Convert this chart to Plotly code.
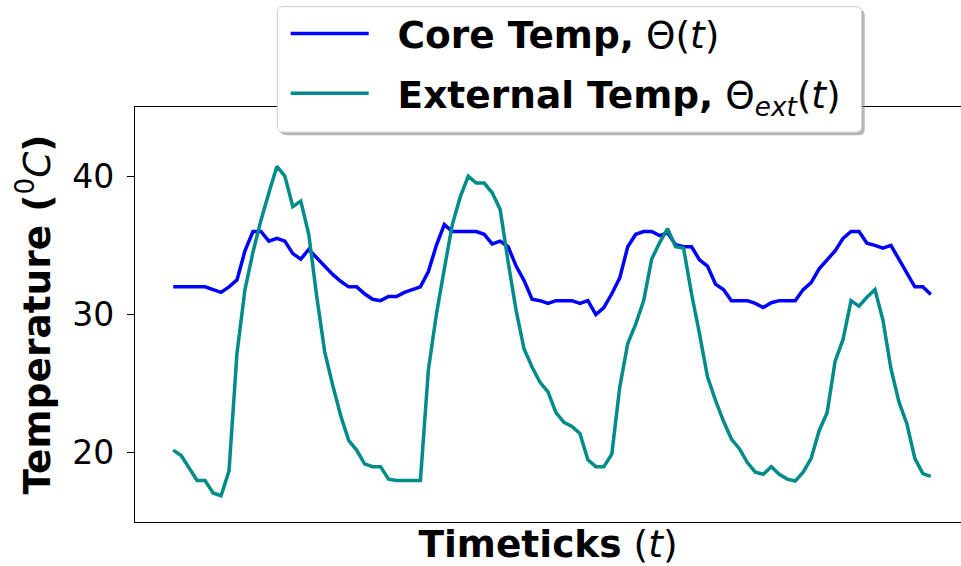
import plotly.graph_objects as go

# time index (timeticks)
timeticks = list(range(96))

core_temp = [
    32.0, 32.0, 32.0, 32.0, 32.0, 31.8, 31.6, 32.0, 32.5, 34.6,
    36.0, 36.0, 35.3, 35.5, 35.3, 34.4, 34.0, 34.7, 34.1, 33.5,
    32.9, 32.4, 32.0, 32.0, 31.5, 31.1, 31.0, 31.3, 31.3, 31.6,
    31.8, 32.0, 33.1, 35.0, 36.5, 36.0, 36.0, 36.0, 36.0, 35.8,
    35.1, 35.3, 34.9, 33.5, 32.45, 31.1, 31.0, 30.8, 31.0, 31.0,
    31.0, 30.8, 31.0, 30.0, 30.5, 31.5, 32.65, 34.9, 35.8, 36.0,
    36.0, 35.7, 35.9, 35.05, 34.9, 34.9, 33.95, 33.5, 32.2, 31.8,
    31.0, 31.0, 31.0, 30.8, 30.5, 30.85, 31.0, 31.0, 31.0, 31.8,
    32.3, 33.3, 33.95, 34.6, 35.5, 36.0, 36.0, 35.15, 35.0, 34.8,
    35.0, 34.0, 33.1, 32.0, 32.0, 31.45,
]

external_temp = [
    20.2, 19.8, 18.9, 18.0, 18.0, 17.1, 16.9, 18.7, 27.2, 31.8,
    34.5, 36.8, 38.8, 40.7, 40.0, 37.8, 38.2, 35.8, 31.3, 27.3,
    24.9, 22.7, 20.9, 20.2, 19.2, 19.0, 19.0, 18.1, 18.0, 18.0,
    18.0, 18.0, 26.0, 30.0, 33.3, 36.5, 38.5, 40.0, 39.5, 39.5,
    38.8, 37.6, 33.8, 30.3, 27.5, 26.2, 25.1, 24.4, 22.9, 22.2,
    21.9, 21.4, 19.5, 19.0, 19.0, 19.9, 24.75, 27.9, 29.3, 31.0,
    34.0, 35.2, 36.2, 34.9, 34.8, 31.5, 28.6, 25.5, 23.8, 22.3,
    21.0, 20.3, 19.3, 18.6, 18.45, 19.0, 18.45, 18.1, 17.96, 18.6,
    19.6, 21.6, 22.9, 26.6, 28.2, 31.0, 30.6, 31.25, 31.8, 29.6,
    26.1, 23.7, 22.1, 19.6, 18.5, 18.3,
]

y_ticks = [20, 30, 40]

FONT = "DejaVu Sans"
BIG = 37.5
NB = "\u00a0\u00a0"

fig = go.Figure()
fig.add_trace(go.Scatter(
    x=timeticks, y=core_temp, mode="lines",
    name=NB + "<b>Core Temp,</b> \u0398(<i>t</i>)",
    line=dict(color="#0000FF", width=3.5),
    legendgroup="core",
))
fig.add_trace(go.Scatter(
    x=timeticks, y=external_temp, mode="lines",
    name=NB + "<b>External Temp,</b> \u0398<sub><i>ext</i></sub>(<i>t</i>)",
    line=dict(color="#008B8B", width=3.5),
    legendgroup="ext",
))

W, H = 961, 566
ml, mr, mt, mb = 135, 0, 106.5, 44
PW = W - ml - mr
PH = H - mt - mb


def px(xp):
    return (xp - ml) / PW


def py(yp):
    return (H - mb - yp) / PH


# legend frame (box + shadow) in page pixels
bx0, bx1, by0, by1, r = 277.3, 861.7, 6.0, 131.7, 6.0


def rounded(x0, y0, x1, y1, rad):
    return (
        f"M {px(x0 + rad)},{py(y0)} L {px(x1 - rad)},{py(y0)} "
        f"Q {px(x1)},{py(y0)} {px(x1)},{py(y0 + rad)} "
        f"L {px(x1)},{py(y1 - rad)} Q {px(x1)},{py(y1)} {px(x1 - rad)},{py(y1)} "
        f"L {px(x0 + rad)},{py(y1)} Q {px(x0)},{py(y1)} {px(x0)},{py(y1 - rad)} "
        f"L {px(x0)},{py(y0 + rad)} Q {px(x0)},{py(y0)} {px(x0 + rad)},{py(y0)} Z"
    )


shapes = [
    dict(type="path", xref="paper", yref="paper", layer="above",
         path=rounded(bx0 + 3, by0 + 3, bx1 + 3, by1 + 3, r),
         fillcolor="rgba(120,120,120,0.55)", line=dict(width=0)),
    dict(type="path", xref="paper", yref="paper", layer="above",
         path=rounded(bx0, by0, bx1, by1, r),
         fillcolor="white", line=dict(color="#cccccc", width=1)),
]

fig.update_layout(
    width=W, height=H,
    margin=dict(l=ml, r=mr, t=mt, b=mb, autoexpand=False),
    paper_bgcolor="white", plot_bgcolor="white",
    font=dict(family=FONT, color="black"),
    showlegend=True,
    shapes=shapes,
    legend=dict(
        x=px(285.7), y=py(2.0),
        xanchor="left", yanchor="top",
        bgcolor="rgba(0,0,0,0)", borderwidth=0,
        font=dict(family=FONT, size=BIG, color="black"),
        itemwidth=78, tracegroupgap=8,
    ),
)

fig.update_xaxes(
    range=[-4.79, 98.79],
    showline=True, linecolor="black", linewidth=1.3, mirror=True,
    ticks="", showticklabels=False, showgrid=False, zeroline=False,
    title=dict(text="<b>Timeticks</b> (<i>t</i>)",
               font=dict(family=FONT, size=BIG, color="black"), standoff=8),
)
fig.update_yaxes(
    range=[15, 45], tickvals=y_ticks,
    showline=True, linecolor="black", linewidth=1.3, mirror=False,
    ticks="outside", ticklen=7, tickwidth=1.3, tickcolor="black",
    tickfont=dict(family=FONT, size=33, color="black"),
    ticklabelstandoff=6,
    showgrid=False, zeroline=False,
    title=dict(text="<b>Temperature (</b><sup>0</sup><i>C</i><b>)</b>",
               font=dict(family=FONT, size=BIG, color="black"), standoff=10),
)

fig.write_html("out.html", config={"displayModeBar": False},
               post_script="document.body.style.margin='0px';")
